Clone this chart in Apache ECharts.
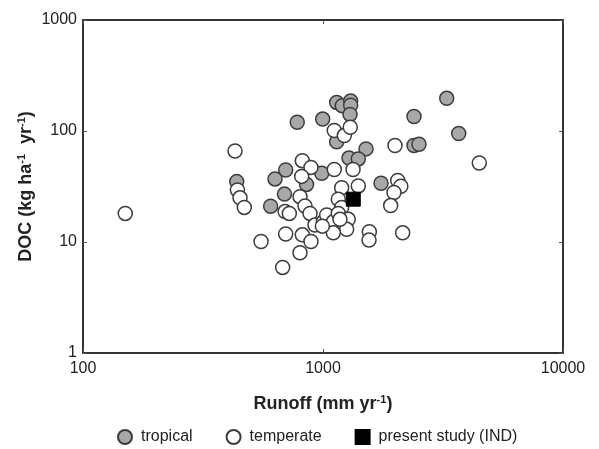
<!DOCTYPE html>
<html>
<head>
<meta charset="utf-8">
<script src="https://cdn.jsdelivr.net/npm/echarts@6/dist/echarts.min.js"></script>
<style>html,body{margin:0;padding:0;background:#fff}#c{width:599px;height:449px}</style>
</head>
<body>
<div id="c"></div>
<script>
// Runoff (mm/yr), DOC (kg/ha/yr)
var tropicalRunoff = [781, 997, 1140, 1203, 1304, 1304, 1296, 2394, 3277, 3677, 1140, 1511, 1283, 1403, 2394, 2512, 699, 631, 988, 437, 854, 691, 1745, 605];
var tropicalDOC    = [120, 128, 181, 169, 186, 171, 141, 135, 197, 95, 80, 69, 57, 56, 74, 76, 44.5, 37, 41.6, 35, 33, 27, 33.8, 21];

var temperateRunoff = [150, 430, 1114, 1227, 1299, 1995, 4479, 820, 891, 815, 1114, 1334, 440, 451, 470, 1196, 1403, 2048, 2110, 1976, 1914, 802, 841, 883, 695, 724, 1158, 1196, 926, 1003, 1036, 1104, 1158, 1274, 1255, 1104, 994, 699, 820, 891, 552, 802, 679, 1560, 1555, 2148, 1177];
var temperateDOC    = [18.1, 66, 101, 91, 108, 74, 51.5, 54, 47, 39, 45, 45, 29.4, 25, 20.5, 30.8, 32, 35.8, 31.8, 27.9, 21.3, 25.6, 21.1, 18.1, 18.8, 18.1, 24.3, 20.5, 14.2, 15.2, 17.5, 15.2, 18.1, 16, 13, 12.1, 13.9, 11.8, 11.6, 10.1, 10.1, 8, 5.9, 12.4, 10.4, 12.1, 16];

var presentRunoff = [1337];
var presentDOC = [24.3];

var xTicks = [100, 1000, 10000];
var yTicks = [1, 10, 100, 1000];

function pairs(a, b) { return a.map(function (v, i) { return [v, b[i]]; }); }

var font = 'Liberation Sans, Arial, sans-serif';
var chart = echarts.init(document.getElementById('c'), null, {renderer: 'canvas'});
var lab = {color: '#222', fontSize: 16, fontFamily: font};
var lineC = '#333';
var nameStyle = {fontSize: 18, fontWeight: 'bold', color: '#222', fontFamily: font,
  rich: {sup: {fontSize: 11, fontWeight: 'bold', color: '#222', fontFamily: font, padding: [0, 0, 9, 0]}}};
chart.setOption({
  animation: false,
  backgroundColor: '#fff',
  grid: {left: 83, right: 36, top: 20, bottom: 96},
  xAxis: [{
    type: 'log', logBase: 10, min: xTicks[0], max: xTicks[xTicks.length - 1], position: 'bottom',
    axisLine: {show: true, lineStyle: {color: lineC, width: 2}},
    axisTick: {show: true, inside: true, length: 4, lineStyle: {color: '#555'}},
    minorTick: {show: false}, splitLine: {show: false},
    axisLabel: Object.assign({margin: 8, formatter: function (v) { return String(Math.round(v)); }}, lab),
    name: 'Runoff (mm yr{sup|-1})', nameLocation: 'middle', nameGap: 41, nameMoveOverlap: false,
    nameTextStyle: nameStyle
  }, {
    type: 'log', logBase: 10, min: xTicks[0], max: xTicks[xTicks.length - 1], position: 'top',
    axisLine: {show: true, lineStyle: {color: lineC, width: 2}},
    axisTick: {show: true, inside: true, length: 4, lineStyle: {color: '#555'}},
    axisLabel: {show: false}, splitLine: {show: false}
  }],
  yAxis: [{
    type: 'log', logBase: 10, min: yTicks[0], max: yTicks[yTicks.length - 1], position: 'left',
    axisLine: {show: true, lineStyle: {color: lineC, width: 2}},
    axisTick: {show: true, inside: true, length: 4, lineStyle: {color: '#555'}},
    splitLine: {show: false},
    axisLabel: Object.assign({margin: 6, formatter: function (v) { return String(Math.round(v)); }}, lab),
    name: 'DOC (kg ha{sup|-1}  yr{sup|-1})', nameLocation: 'middle', nameGap: 47, nameRotate: 90,
    nameMoveOverlap: false,
    nameTextStyle: nameStyle
  }, {
    type: 'log', logBase: 10, min: yTicks[0], max: yTicks[yTicks.length - 1], position: 'right',
    axisLine: {show: true, lineStyle: {color: lineC, width: 2}},
    axisTick: {show: true, inside: true, length: 4, lineStyle: {color: '#555'}},
    axisLabel: {show: false}, splitLine: {show: false}
  }],
  legend: {
    top: 429, left: 117, padding: 0, itemWidth: 14, itemHeight: 14, itemGap: 33,
    textStyle: {fontSize: 16, color: '#222', fontFamily: font, padding: [0, 0, 0, 4]},
    data: [{name: 'tropical', icon: 'circle'}, {name: 'temperate', icon: 'circle'}, {name: 'present study (IND)', icon: 'rect'}]
  },
  series: [{
    name: 'tropical', type: 'scatter', symbol: 'circle', symbolSize: 14,
    data: pairs(tropicalRunoff, tropicalDOC),
    itemStyle: {color: '#a8a8a8', borderColor: '#3c3c3c', borderWidth: 1.5, opacity: 1}
  }, {
    name: 'temperate', type: 'scatter', symbol: 'circle', symbolSize: 14,
    data: pairs(temperateRunoff, temperateDOC),
    itemStyle: {color: '#ffffff', borderColor: '#3c3c3c', borderWidth: 1.5, opacity: 1}
  }, {
    name: 'present study (IND)', type: 'scatter', symbol: 'rect', symbolSize: 14,
    data: pairs(presentRunoff, presentDOC),
    itemStyle: {color: '#000', borderColor: '#000', borderWidth: 1, opacity: 1}, z: 5
  }]
});
</script>
</body>
</html>
